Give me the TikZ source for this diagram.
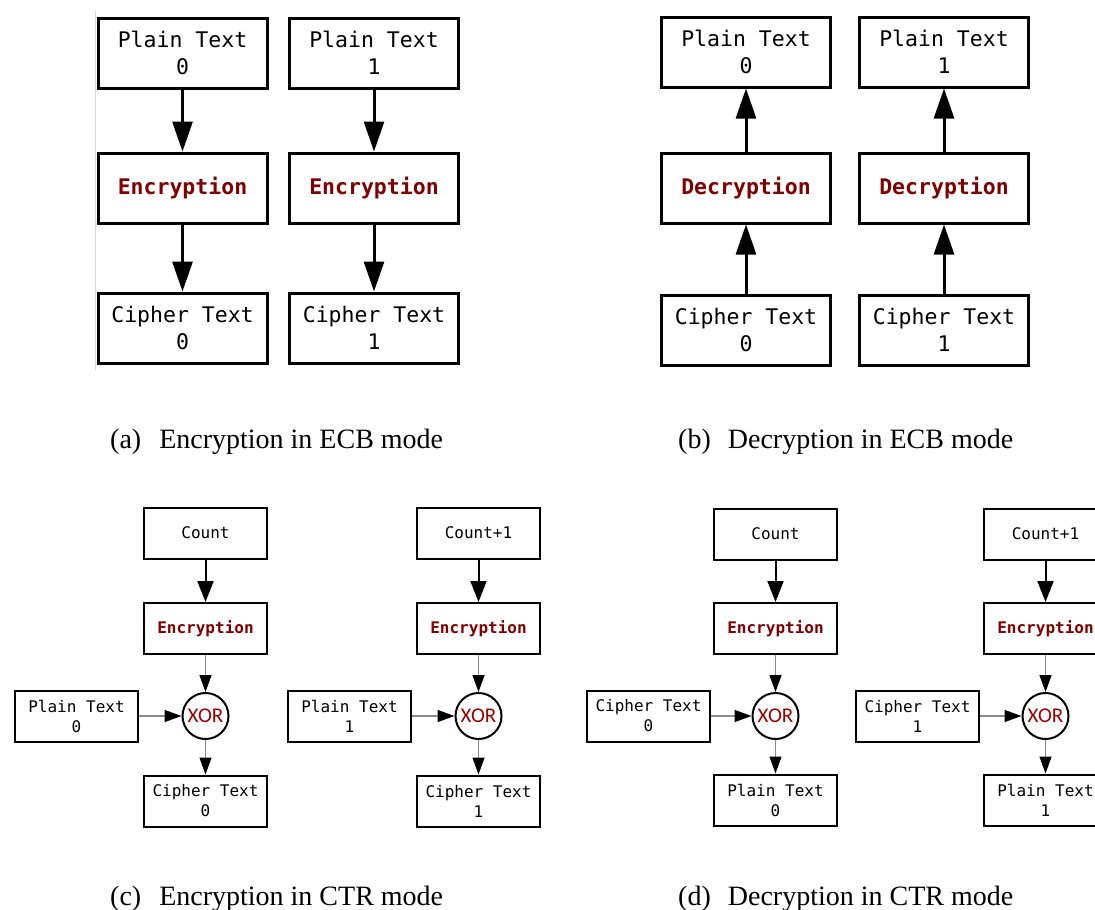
\documentclass[tikz,border=0pt]{standalone}
\usepackage{fontspec}
\setmainfont{Liberation Serif}
\newfontfamily\monof{DejaVu Sans Mono}
\newfontfamily\xorf{Carlito}
\usetikzlibrary{arrows.meta}
\definecolor{dred}{RGB}{128,0,0}
\definecolor{xred}{RGB}{155,0,0}
\definecolor{lgray}{RGB}{140,140,140}
\begin{document}
\begin{tikzpicture}[x=1pt,y=-1pt,
 bigbox/.style={draw, line width=3pt, minimum width=169pt, minimum height=70pt, inner sep=0pt, align=center, font=\monof\fontsize{21.5}{27}\selectfont},
 bigop/.style={bigbox, text=dred, font=\monof\bfseries\fontsize{21.5}{27}\selectfont},
 bigarrow/.style={line width=3pt, -{Triangle[length=30pt,width=20pt]}},
 smbox/.style={draw, line width=2pt, minimum width=123pt, minimum height=51pt, inner sep=0pt, align=center, font=\monof\fontsize{16}{20}\selectfont},
 smop/.style={smbox, text=dred, font=\monof\bfseries\fontsize{16}{20}\selectfont},
 xorc/.style={draw, circle, line width=2pt, minimum size=46pt, inner sep=0pt, text=xred, font=\xorf\fontsize{21}{22}\selectfont},
 darrow/.style={line width=2pt, -{Triangle[length=21pt,width=16pt]}},
 garrow/.style={draw=lgray, line width=1.3pt, -{Triangle[length=17pt,width=12pt,color=black]}},
 captxt/.style={anchor=base west, inner sep=0pt, font=\fontsize{28}{30}\selectfont}
]
\useasboundingbox (0,0) rectangle (1095,910);
\clip (0,0) rectangle (1095,910);

% faint edge line
\draw[black!15, line width=1pt] (95,10) -- (95,370);

% (a) ECB encryption
\foreach \cx/\d/\n in {182.5/0/a0, 374/1/a1}{
  \node[bigbox] (p\n) at (\cx,53) {Plain Text\\\d};
  \node[bigop] (e\n) at (\cx,188) {Encryption};
  \node[bigbox] (c\n) at (\cx,328) {Cipher Text\\\d};
  \draw[bigarrow] (p\n) -- (e\n);
  \draw[bigarrow] (e\n) -- (c\n);
}

% (b) ECB decryption
\foreach \cx/\d/\n in {746/0/b0, 944/1/b1}{
  \node[bigbox] (p\n) at (\cx,52) {Plain Text\\\d};
  \node[bigop] (e\n) at (\cx,188) {Decryption};
  \node[bigbox] (c\n) at (\cx,330) {Cipher Text\\\d};
  \draw[bigarrow] (c\n) -- (e\n);
  \draw[bigarrow] (e\n) -- (p\n);
}

% (c) CTR encryption
\foreach \cx/\lx/\cnt/\d/\n in {205.5/76.5/Count/0/c0, 478.5/349.5/Count+1/1/c1}{
  \node[smbox] (k\n) at (\cx,533) {\cnt};
  \node[smop] (e\n) at (\cx,628.5) {Encryption};
  \node[xorc] (x\n) at (\cx,716) {XOR};
  \node[smbox] (p\n) at (\lx,716) {Plain Text\\\d};
  \node[smbox] (c\n) at (\cx,801) {Cipher Text\\\d};
  \draw[darrow] (k\n) -- (e\n);
  \draw[garrow] (e\n) -- (x\n);
  \draw[garrow] (p\n) -- (x\n);
  \draw[garrow] (x\n) -- (c\n);
}

% (d) CTR decryption
\foreach \cx/\lx/\cnt/\d/\n in {775.5/648.5/Count/0/d0, 1045.5/917.5/Count+1/1/d1}{
  \node[smbox] (k\n) at (\cx,534) {\cnt};
  \node[smop] (e\n) at (\cx,628.5) {Encryption};
  \node[xorc] (x\n) at (\cx,716) {XOR};
  \node[smbox] (c\n) at (\lx,716) {Cipher Text\\\d};
  \node[smbox] (p\n) at (\cx,800) {Plain Text\\\d};
  \draw[darrow] (k\n) -- (e\n);
  \draw[garrow] (e\n) -- (x\n);
  \draw[garrow] (c\n) -- (x\n);
  \draw[garrow] (x\n) -- (p\n);
}

% captions
\node[captxt] (capa) at (110,448) {(a)\hspace{18pt}Encryption in ECB mode};
\node[captxt] (capb) at (678,448) {(b)\hspace{17pt}Decryption in ECB mode};
\node[captxt] (capc) at (110,905) {(c)\hspace{18pt}Encryption in CTR mode};
\node[captxt] (capd) at (678,905) {(d)\hspace{17pt}Decryption in CTR mode};
\end{tikzpicture}
\end{document}
